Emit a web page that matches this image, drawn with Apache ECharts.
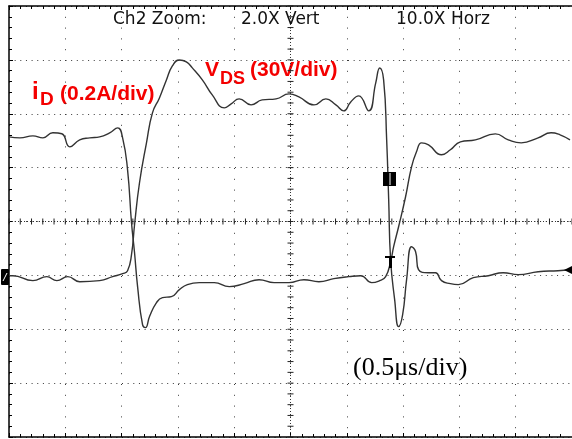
<!DOCTYPE html>
<html><head><meta charset="utf-8">
<script src="https://cdn.jsdelivr.net/npm/echarts@6/dist/echarts.min.js"></script>
<style>html,body{margin:0;padding:0;background:#fff}#c{width:572px;height:439px}</style>
</head><body><div id="c"></div>
<script>
// Time in microseconds (0.5 us/div), amplitude in screen divisions
const idTime = [0.000,0.097,0.212,0.301,0.389,0.469,0.540,0.628,0.717,0.805,0.894,0.965,1.009,1.053,1.088,1.115,1.142,1.186,1.212,1.248,1.310,1.363,1.442,1.513,1.584,1.690,
  1.823,1.956,2.088,2.221,2.354,2.487,2.619,2.752,2.885,3.018,3.124,3.221,3.292,3.345,3.389,3.416,3.460,3.522,3.575,3.619,3.664,3.726,3.841,3.920,4.009,4.142,4.319,4.434,4.549,4.699,4.814,4.894,4.982];
const idDiv = [1.571,1.553,1.590,1.553,1.646,1.628,1.386,1.516,1.553,1.571,1.646,1.738,1.553,0.959,-0.023,-0.579,-1.209,-1.913,-1.969,-1.765,-1.506,-1.413,-1.395,-1.265,-1.172,-1.135,
  -1.135,-1.209,-1.154,-1.080,-1.135,-1.135,-1.080,-1.117,-1.061,-1.024,-1.006,-1.135,-1.098,-1.024,-0.746,-0.468,-0.097,0.459,1.015,1.293,1.460,1.423,1.238,1.331,1.479,1.516,1.627,1.516,1.460,1.553,1.646,1.609,1.516];
const vdsTime = [0.000,0.035,0.212,0.336,0.425,0.522,0.628,0.805,0.920,1.009,1.053,1.088,1.115,1.159,1.221,1.274,1.336,1.398,1.451,1.513,1.575,1.628,1.717,1.805,1.912,1.973,2.044,2.150,2.248,2.372,2.487,2.575,2.708,2.814,2.903,2.973,3.035,3.106,3.195,3.257,3.292,3.327,3.354,3.372,3.389,3.425,3.460,3.496,3.531,3.575,3.611,3.637,3.726,3.788,3.841,3.920,3.991,4.124,4.257,4.389,4.522,4.699,4.876,4.982];
const vdsDiv = [-1.006,-1.006,-1.098,-1.024,-1.098,-1.024,-1.117,-1.098,-1.024,-0.969,-0.913,-0.616,-0.060,0.719,1.460,2.016,2.294,2.628,2.888,2.999,2.962,2.851,2.628,2.350,2.109,2.183,2.276,2.164,2.257,2.276,2.368,2.313,2.164,2.276,2.164,2.053,2.220,2.331,2.053,2.572,2.850,2.628,1.516,0.403,-0.709,-1.451,-1.951,-1.728,-1.080,-0.468,-0.561,-0.895,-0.950,-0.950,-1.098,-1.154,-1.172,-1.043,-1.006,-0.950,-0.987,-0.932,-0.913,-0.895];
const headerTexts = ['Ch2 Zoom:', '2.0X Vert', '10.0X Horz'];
const idLabel = ['i', 'D', '(0.2A/div)'];
const vdsLabel = ['V', 'DS', '(30V/div)'];
const timeLabel = '(0.5\u03bcs/div)';

const zip = (a, b) => a.map((v, i) => [v, b[i]]);
const chart = echarts.init(document.getElementById('c'), null, {renderer: 'canvas'});

const dotted = (gap) => ({show: true, lineStyle: {color: '#3a3a3a', width: 1, type: [1, gap]}});
const xBase = {type: 'value', min: 0, max: 5, interval: 0.5, axisLabel: {show: false},
  axisLine: {show: true, onZero: false, lineStyle: {color: '#000', width: 1.5}},
  axisTick: {show: true, inside: true, length: 4, lineStyle: {color: '#000'}},
  minorTick: {show: true, splitNumber: 5, length: 3, lineStyle: {color: '#000'}}};

const option = {
  animation: false,
  backgroundColor: '#fff',
  grid: {left: 9, top: 6, width: 565, height: 431},
  xAxis: [
    Object.assign({}, xBase, {position: 'bottom', splitLine: dotted(9.8)}),
    Object.assign({}, xBase, {position: 'top', splitLine: {show: false}})
  ],
  yAxis: [{type: 'value', min: -4, max: 4, interval: 1, axisLabel: {show: false},
    axisLine: {show: true, onZero: false, lineStyle: {color: '#000', width: 1.5}},
    axisTick: {show: true, inside: true, length: 4, lineStyle: {color: '#000'}},
    minorTick: {show: true, splitNumber: 5, length: 3, lineStyle: {color: '#000'}},
    splitLine: dotted(4.65)}],
  series: [
    {type: 'custom', silent: true, data: [[2.5, 0]], z: 1,
      renderItem: function (params, api) {
        const c = api.coord([2.5, 0]);
        const xa = api.coord([0, 0])[0], xb = api.coord([5, 0])[0];
        const ya = api.coord([0, -4])[1], yb = api.coord([0, 4])[1];
        const st = {stroke: '#222', lineWidth: 1};
        const ch = [
          {type: 'line', shape: {x1: xa, y1: c[1], x2: xb, y2: c[1]}, style: {stroke: '#333', lineWidth: 1, lineDash: [1, 2]}},
          {type: 'line', shape: {x1: c[0], y1: yb, x2: c[0], y2: ya}, style: {stroke: '#333', lineWidth: 1, lineDash: [1, 2]}}
        ];
        for (let k = 0; k <= 50; k++) {
          const x = api.coord([k * 0.1, 0])[0];
          ch.push({type: 'line', shape: {x1: x, y1: c[1] - 3, x2: x, y2: c[1] + 3}, style: st});
        }
        for (let k = 0; k <= 40; k++) {
          const y = api.coord([0, -4 + k * 0.2])[1];
          ch.push({type: 'line', shape: {x1: c[0] - 3, y1: y, x2: c[0] + 3, y2: y}, style: st});
        }
        return {type: 'group', children: ch};
      }},
    {name: 'iD', type: 'line', data: zip(idTime, idDiv), showSymbol: false, smooth: 0.5,
      lineStyle: {color: '#333', width: 1.4}, z: 3},
    {name: 'VDS', type: 'line', data: zip(vdsTime, vdsDiv), showSymbol: false, smooth: 0.5,
      lineStyle: {color: '#333', width: 1.4}, z: 3}
  ],
  graphic: [
    {type: 'text', x: 113, y: 20, style: {text: headerTexts[0], font: '17px "DejaVu Sans"', fill: '#111', verticalAlign: 'middle'}},
    {type: 'text', x: 241, y: 20, style: {text: headerTexts[1], font: '17px "DejaVu Sans"', fill: '#111', verticalAlign: 'middle'}},
    {type: 'text', x: 396, y: 20, style: {text: headerTexts[2], font: '17px "DejaVu Sans"', fill: '#111', verticalAlign: 'middle'}},
    {type: 'text', x: 32, y: 92, style: {text: idLabel[0], font: 'bold 24px "Liberation Sans"', fill: '#f40000', verticalAlign: 'middle'}},
    {type: 'text', x: 40, y: 100, style: {text: idLabel[1], font: 'bold 19px "Liberation Sans"', fill: '#f40000', verticalAlign: 'middle'}},
    {type: 'text', x: 60, y: 94, style: {text: idLabel[2], font: 'bold 21px "Liberation Sans"', fill: '#f40000', verticalAlign: 'middle'}},
    {type: 'text', x: 205, y: 70, style: {text: vdsLabel[0], font: 'bold 21px "Liberation Sans"', fill: '#f40000', verticalAlign: 'middle'}},
    {type: 'text', x: 220, y: 79, style: {text: vdsLabel[1], font: 'bold 18px "Liberation Sans"', fill: '#f40000', verticalAlign: 'middle'}},
    {type: 'text', x: 250, y: 70, style: {text: vdsLabel[2], font: 'bold 21px "Liberation Sans"', fill: '#f40000', verticalAlign: 'middle'}},
    {type: 'text', x: 353, y: 368, style: {text: timeLabel, font: '26px "Liberation Serif"', fill: '#000', verticalAlign: 'middle'}},
    // scope markers
    {type: 'rect', shape: {x: 1, y: 269, width: 8, height: 16, r: 1}, style: {fill: '#000'}, z: 10},
    {type: 'line', shape: {x1: 3, y1: 281, x2: 7, y2: 273}, style: {stroke: '#fff', lineWidth: 1}, z: 11},
    {type: 'rect', shape: {x: 383, y: 172, width: 13, height: 14}, style: {fill: '#000'}, z: 10},
    {type: 'line', shape: {x1: 390, y1: 173, x2: 390, y2: 185}, style: {stroke: '#fff', lineWidth: 1}, z: 11},
    {type: 'rect', shape: {x: 385, y: 256, width: 10, height: 2}, style: {fill: '#000'}, z: 10},
    {type: 'rect', shape: {x: 389, y: 256, width: 3, height: 12}, style: {fill: '#000'}, z: 10},
    {type: 'polygon', shape: {points: [[564, 270], [572, 266], [572, 274]]}, style: {fill: '#000'}, z: 10}
  ]
};
chart.setOption(option);
</script></body></html>
